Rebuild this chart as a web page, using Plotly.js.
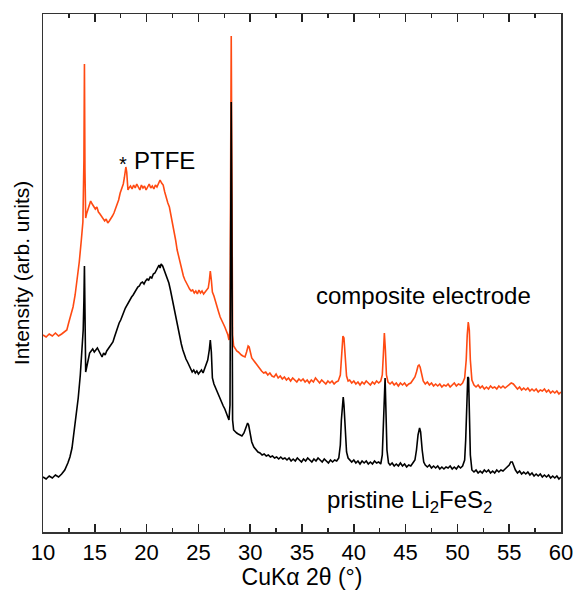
<!DOCTYPE html>
<html>
<head>
<meta charset="utf-8">
<script src="https://cdn.plot.ly/plotly-3.0.1.min.js"></script>
<style>html,body{margin:0;padding:0;background:#fff;}#chart{width:577px;height:590px;}</style>
</head>
<body>
<div id="chart"></div>
<script>
// 2θ (deg), intensity (arb. units) for the composite electrode
const compositePts = [
[10.0,197],[10.3,195],[10.6,198],[10.9,196],[11.2,199],[11.5,196],[11.8,198],[12.1,200],[12.3,202],[12.5,210],
[12.7,217],[12.9,225],[13.1,237],[13.3,252],[13.5,270],[13.7,292],[13.85,310],[13.95,372],[14.0,468],[14.05,362],
[14.12,314],[14.2,318],[14.3,322],[14.45,327],[14.6,331],[14.75,328],[14.9,326],[15.05,323],[15.2,325],[15.35,320],
[15.5,318],[15.65,316],[15.8,314],[15.95,311],[16.1,313],[16.25,309],[16.4,311],[16.55,313],[16.7,316],[16.85,319],
[17.0,323],[17.15,326],[17.3,332],[17.45,339],[17.6,344],[17.75,348],[17.85,354],[17.95,362],[18.0,365],[18.08,360],
[18.2,342],[18.3,344],[18.45,346],[18.6,343],[18.75,347],[18.9,344],[19.05,348],[19.2,345],[19.35,342],[19.5,347],
[19.65,344],[19.8,346],[19.95,342],[20.1,345],[20.25,348],[20.4,344],[20.55,346],[20.7,343],[20.85,347],[21.0,345],
[21.15,349],[21.3,352],[21.45,349],[21.6,347],[21.75,340],[21.9,334],[22.05,329],[22.2,325],[22.35,317],[22.5,310],
[22.65,302],[22.8,292],[22.95,282],[23.1,275],[23.25,267],[23.4,262],[23.55,256],[23.7,252],[23.85,248],[24.0,246],
[24.15,243],[24.3,241],[24.45,242],[24.6,239],[24.75,241],[24.9,238],[25.05,242],[25.2,239],[25.35,241],[25.5,238],
[25.65,240],[25.8,242],[25.95,244],[26.05,251],[26.15,261],[26.25,252],[26.35,240],[26.5,236],[26.65,230],[26.8,226],
[26.95,220],[27.1,215],[27.25,212],[27.4,208],[27.55,205],[27.7,201],[27.85,197],[27.95,192],[28.05,202],[28.12,382],
[28.17,496],[28.22,382],[28.3,197],[28.4,186],[28.55,183],[28.7,181],[28.85,180],[29.0,178],[29.15,177],[29.3,176],
[29.5,175],[29.65,180],[29.8,186],[29.9,185],[30.0,181],[30.15,174],[30.3,172],[30.5,169],[30.7,166],[30.9,163],
[31.1,161],[31.3,159],[31.5,160],[31.7,157],[31.9,159],[32.1,156],[32.3,155],[32.5,158],[32.7,154],[32.9,156],
[33.1,153],[33.3,155],[33.5,152],[33.7,154],[33.9,151],[34.1,154],[34.3,152],[34.5,150],[34.7,153],[34.9,151],
[35.1,153],[35.3,150],[35.5,152],[35.7,149],[35.9,152],[36.1,150],[36.3,154],[36.5,151],[36.7,149],[36.9,152],
[37.1,150],[37.3,148],[37.5,151],[37.7,149],[37.9,151],[38.1,148],[38.3,150],[38.5,151],[38.7,157],[38.85,177],
[38.95,196],[39.05,194],[39.15,174],[39.3,156],[39.45,151],[39.6,152],[39.8,149],[40.0,151],[40.2,148],[40.4,150],
[40.6,147],[40.8,150],[41.0,148],[41.2,151],[41.4,149],[41.6,147],[41.8,150],[42.0,148],[42.2,151],[42.4,149],
[42.6,151],[42.75,157],[42.85,177],[42.95,199],[43.05,182],[43.15,157],[43.3,150],[43.5,148],[43.7,150],[43.9,147],
[44.1,149],[44.3,146],[44.5,149],[44.7,147],[44.9,149],[45.1,146],[45.3,148],[45.5,149],[45.7,152],[45.9,155],
[46.05,160],[46.2,166],[46.3,167],[46.4,165],[46.55,158],[46.7,151],[46.9,148],[47.1,150],[47.3,147],[47.5,149],
[47.7,146],[47.9,148],[48.1,146],[48.3,148],[48.5,145],[48.7,147],[48.9,146],[49.1,148],[49.3,145],[49.5,147],
[49.7,149],[49.9,146],[50.1,148],[50.3,147],[50.5,149],[50.7,154],[50.85,172],[50.95,197],[51.05,210],[51.15,202],
[51.25,172],[51.4,152],[51.6,147],[51.8,145],[52.0,147],[52.2,144],[52.4,146],[52.6,143],[52.8,145],[53.0,143],
[53.2,146],[53.4,144],[53.6,145],[53.8,143],[54.0,146],[54.2,144],[54.4,146],[54.6,144],[54.8,146],[55.0,147],
[55.2,149],[55.4,148],[55.6,146],[55.8,143],[56.0,145],[56.2,142],[56.4,144],[56.6,142],[56.8,144],[57.0,141],
[57.2,143],[57.4,141],[57.6,143],[57.8,140],[58.0,142],[58.2,141],[58.4,143],[58.6,140],[58.8,142],[59.0,139],
[59.2,141],[59.4,139],[59.6,141],[59.8,138],[60.0,140]
];
// 2θ (deg), intensity (arb. units) for pristine Li2FeS2
const pristinePts = [
[10.0,55],[10.3,53],[10.6,56],[10.9,54],[11.2,57],[11.5,55],[11.8,58],[12.1,62],[12.4,69],[12.6,75],
[12.8,84],[13.0,100],[13.2,117],[13.4,134],[13.6,157],[13.75,177],[13.88,202],[13.95,232],[14.0,266],[14.05,222],
[14.12,160],[14.2,164],[14.35,172],[14.5,179],[14.65,181],[14.8,183],[14.95,180],[15.1,182],[15.25,184],[15.4,181],
[15.55,177],[15.7,175],[15.85,179],[16.0,177],[16.15,181],[16.3,183],[16.45,185],[16.6,187],[16.75,190],[16.9,195],
[17.05,200],[17.2,204],[17.35,209],[17.5,212],[17.65,217],[17.8,220],[17.95,224],[18.1,227],[18.25,229],[18.4,232],
[18.55,235],[18.7,237],[18.85,240],[19.0,242],[19.15,245],[19.3,246],[19.45,249],[19.6,250],[19.75,248],[19.9,251],
[20.05,253],[20.2,252],[20.35,255],[20.5,254],[20.65,258],[20.8,259],[20.95,262],[21.1,264],[21.2,267],[21.3,264],
[21.4,268],[21.55,266],[21.7,262],[21.85,258],[22.0,255],[22.15,249],[22.3,242],[22.45,234],[22.6,226],[22.75,218],
[22.9,210],[23.05,202],[23.2,195],[23.35,188],[23.5,182],[23.65,177],[23.8,173],[23.95,170],[24.1,166],[24.25,163],
[24.4,160],[24.55,162],[24.7,159],[24.85,161],[25.0,158],[25.15,160],[25.3,162],[25.45,159],[25.6,163],[25.75,167],
[25.9,172],[26.05,182],[26.15,192],[26.25,180],[26.35,154],[26.5,148],[26.65,144],[26.8,141],[26.95,137],[27.1,133],
[27.25,129],[27.4,126],[27.55,123],[27.7,119],[27.85,116],[27.95,112],[28.05,127],[28.12,332],[28.17,430],[28.22,332],
[28.3,112],[28.4,102],[28.55,100],[28.7,99],[28.85,98],[29.0,97],[29.2,96],[29.4,99],[29.6,105],[29.75,109],
[29.85,107],[30.0,97],[30.15,90],[30.35,85],[30.55,82],[30.75,80],[30.95,79],[31.15,77],[31.35,78],[31.55,76],
[31.75,77],[31.95,75],[32.15,76],[32.35,74],[32.55,75],[32.75,73],[32.95,75],[33.15,73],[33.35,74],[33.55,72],
[33.75,74],[33.95,71],[34.15,73],[34.35,71],[34.55,74],[34.75,72],[34.95,70],[35.15,73],[35.35,71],[35.55,74],
[35.75,72],[35.95,70],[36.15,73],[36.35,71],[36.55,74],[36.75,72],[36.95,70],[37.15,73],[37.35,71],[37.55,69],
[37.75,72],[37.95,70],[38.15,72],[38.35,71],[38.55,74],[38.7,87],[38.8,112],[38.9,132],[38.98,135],[39.05,127],
[39.15,102],[39.3,80],[39.45,74],[39.6,72],[39.8,70],[40.0,72],[40.2,69],[40.4,71],[40.6,68],[40.8,71],
[41.0,69],[41.2,71],[41.4,68],[41.6,70],[41.8,68],[42.0,71],[42.2,69],[42.4,70],[42.6,68],[42.75,77],
[42.85,112],[42.95,152],[43.02,154],[43.1,122],[43.2,82],[43.35,69],[43.5,67],[43.7,69],[43.9,66],[44.1,68],
[44.3,66],[44.5,69],[44.7,66],[44.9,68],[45.1,65],[45.3,67],[45.5,66],[45.7,69],[45.9,72],[46.05,82],
[46.2,97],[46.35,104],[46.45,100],[46.6,82],[46.75,70],[46.9,67],[47.1,65],[47.3,67],[47.5,64],[47.7,66],
[47.9,64],[48.1,66],[48.3,63],[48.5,65],[48.7,63],[48.9,65],[49.1,64],[49.3,66],[49.5,63],[49.7,65],
[49.9,63],[50.1,66],[50.3,64],[50.5,66],[50.7,72],[50.8,92],[50.9,132],[51.0,155],[51.08,154],[51.15,122],
[51.25,77],[51.4,62],[51.6,60],[51.8,62],[52.0,59],[52.2,61],[52.4,59],[52.6,62],[52.8,60],[53.0,62],
[53.2,59],[53.4,61],[53.6,59],[53.8,62],[54.0,60],[54.2,62],[54.4,61],[54.6,63],[54.8,65],[55.0,67],
[55.15,70],[55.3,70],[55.45,66],[55.6,62],[55.8,59],[56.0,61],[56.2,58],[56.4,60],[56.6,58],[56.8,60],
[57.0,57],[57.2,59],[57.4,56],[57.6,58],[57.8,56],[58.0,58],[58.2,55],[58.4,57],[58.6,55],[58.8,57],
[59.0,54],[59.2,56],[59.4,54],[59.6,56],[59.8,53],[60.0,55]
];
const xTickVals = [10,15,20,25,30,35,40,45,50,55,60];
const xTickText = ["10","15","20","25","30","35","40","45","50","55","60"];
const labelComposite = "composite electrode";
const labelPristine = "pristine Li<sub>2</sub>FeS<sub>2</sub>";
const labelPTFE = "PTFE";

const FONT = "Liberation Sans, Arial, Helvetica, sans-serif";

const traces = [
  {x: compositePts.map(p=>p[0]), y: compositePts.map(p=>p[1]), type:'scatter', mode:'lines',
   line:{color:'#ff4a12', width:1.6}, hoverinfo:'skip', showlegend:false},
  {x: pristinePts.map(p=>p[0]), y: pristinePts.map(p=>p[1]), type:'scatter', mode:'lines',
   line:{color:'#000000', width:1.6}, hoverinfo:'skip', showlegend:false}
];

const layout = {
  width:577, height:590,
  margin:{l:43, r:16, t:14, b:58, pad:0},
  paper_bgcolor:'#fff', plot_bgcolor:'#fff',
  font:{family:FONT, size:22, color:'#000'},
  showlegend:false,
  xaxis:{
    range:[10,60], tickmode:'array', tickvals:xTickVals, ticktext:xTickText,
    ticks:'inside', ticklen:8, tickwidth:1.5, tickcolor:'#222',
    minor:{dtick:2.5, tick0:10, ticks:'inside', ticklen:4, tickwidth:1.5, tickcolor:'#222', showgrid:false},
    showline:true, linecolor:'#333', linewidth:1.5, mirror:'ticks',
    showgrid:false, zeroline:false,
    tickfont:{family:FONT, size:22, color:'#000'},
    title:{text:'CuKα 2θ (°)', font:{family:FONT, size:23, color:'#000'}, standoff:2},
    fixedrange:true
  },
  yaxis:{
    range:[0,518], showticklabels:false, ticks:'',
    showline:true, linecolor:'#333', linewidth:1.5, mirror:true,
    showgrid:false, zeroline:false,
    title:{text:'Intensity (arb. units)', font:{family:FONT, size:21, color:'#000'}, standoff:6},
    fixedrange:true
  },
  annotations:[
    {x:17.72, y:372, xref:'x', yref:'y', text:'*', showarrow:false, xanchor:'center', yanchor:'middle',
     yshift:-4, font:{family:FONT, size:20, color:'#000'}},
    {x:18.55, y:372, xref:'x', yref:'y', text:labelPTFE, showarrow:false, xanchor:'left', yanchor:'middle',
     font:{family:FONT, size:24, color:'#000'}},
    {x:36.2, y:237, xref:'x', yref:'y', text:labelComposite, showarrow:false, xanchor:'left', yanchor:'middle',
     font:{family:FONT, size:24, color:'#000'}},
    {x:37.2, y:31, xref:'x', yref:'y', text:labelPristine, showarrow:false, xanchor:'left', yanchor:'middle',
     font:{family:FONT, size:24, color:'#000'}}
  ]
};

Plotly.newPlot('chart', traces, layout, {staticPlot:true, displayModeBar:false});
</script>
</body>
</html>
